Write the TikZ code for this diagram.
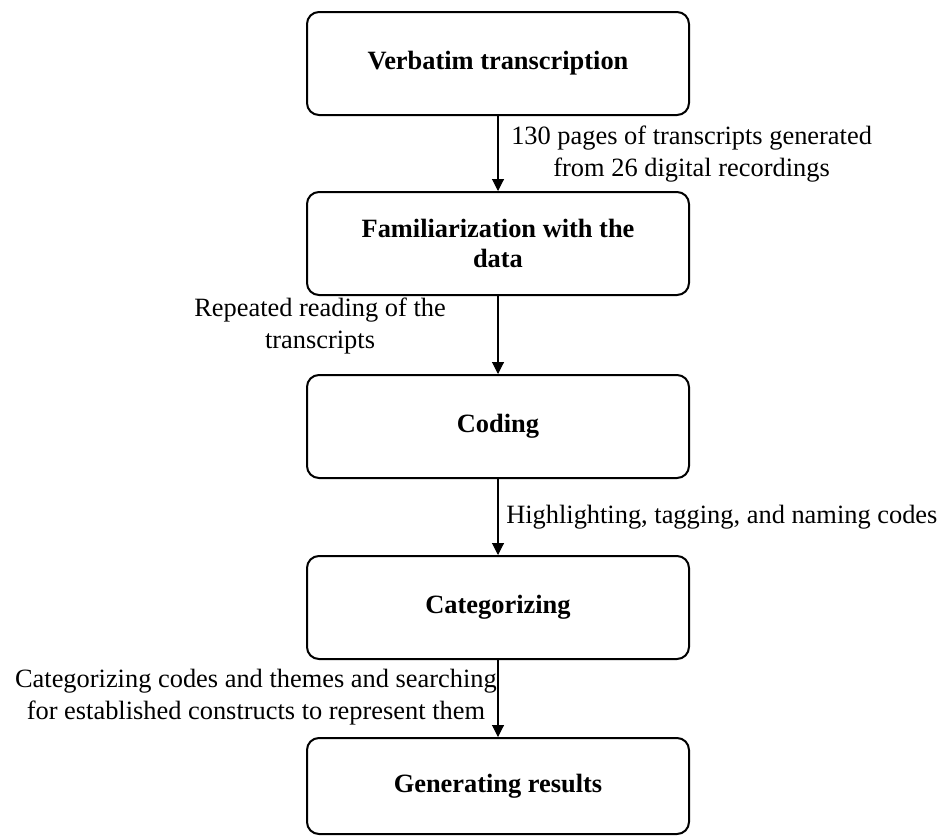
\documentclass[tikz,border=0pt]{standalone}
\usepackage{fontspec}
\setmainfont{Liberation Serif}
\usetikzlibrary{arrows.meta}
\begin{document}
\begin{tikzpicture}[x=0.75pt,y=-0.75pt,
 stagebox/.style={draw, line width=1.5pt, rounded corners=9pt, minimum width=286.5pt, minimum height=77.25pt, align=center, font=\fontsize{19.8}{22.8}\selectfont\bfseries, inner sep=0pt},
 flow/.style={line width=0.8pt, -{Triangle[length=9pt,width=9pt]}},
 lbl/.style={align=center, font=\fontsize{19.8}{23.5}\selectfont, inner sep=0pt}]
\useasboundingbox (0,0) rectangle (946,836);
\node[stagebox] (b1) at (498,63.5) {Verbatim transcription};
\node[stagebox] (b2) at (498,243.5) {Familiarization with the\\data};
\node[stagebox] (b3) at (498,426.5) {Coding};
\node[stagebox] (b4) at (498,607.5) {Categorizing};
\node[stagebox, minimum height=72pt] (b5) at (498,786) {Generating results};
\draw[flow] (b1) -- (b2);
\draw[flow] (b2) -- (b3);
\draw[flow] (b3) -- (b4);
\draw[flow] (b4) -- (b5);
\node[lbl, anchor=west] (l1) at (511,154) {130 pages of transcripts generated\\from 26 digital recordings};
\node[lbl, anchor=north east] (l2) at (446,298) {Repeated reading of the\\transcripts};
\node[lbl, anchor=west] (l3) at (506,517) {Highlighting, tagging, and naming codes};
\node[lbl, anchor=east] (l4) at (497,697) {Categorizing codes and themes and searching\\for established constructs to represent them};
\end{tikzpicture}
\end{document}
